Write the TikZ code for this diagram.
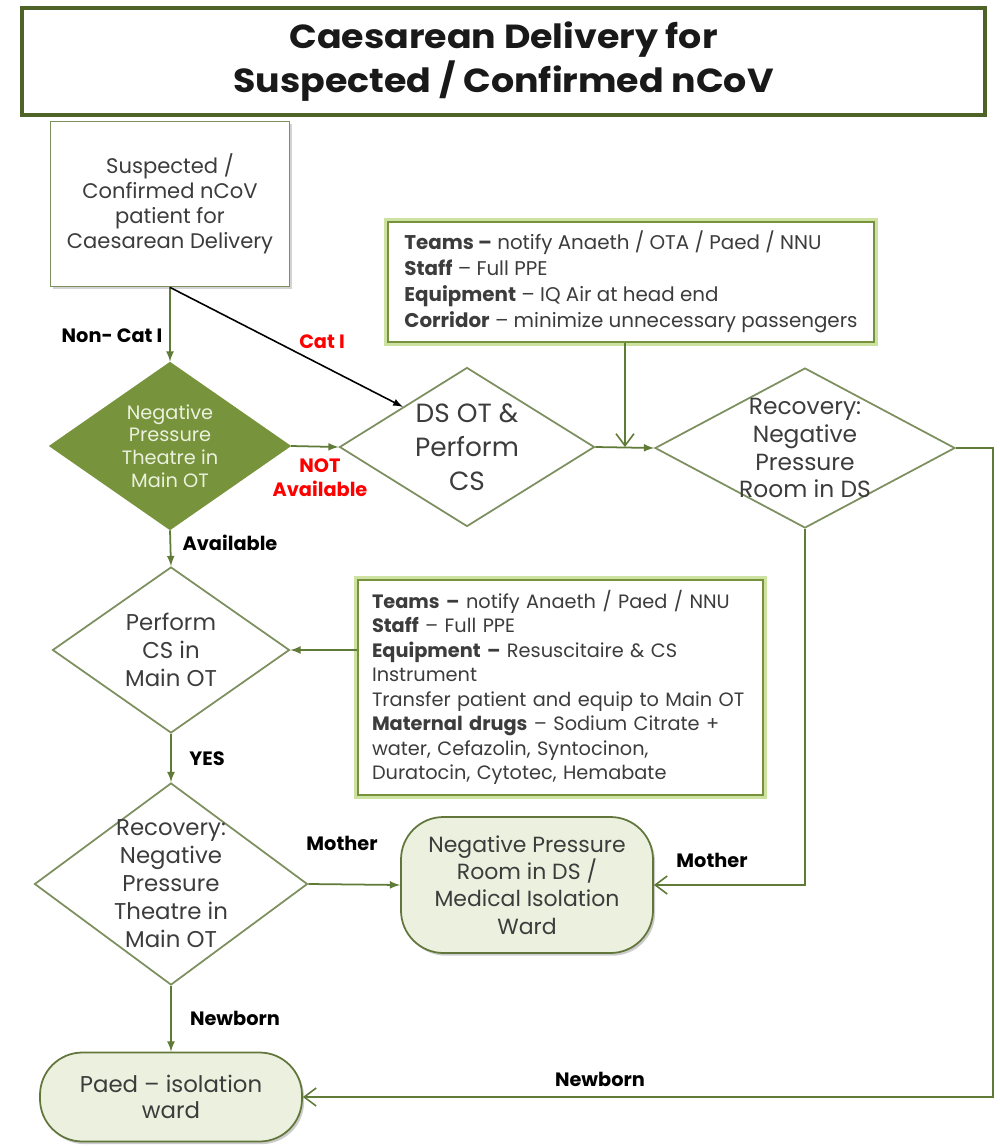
\documentclass[tikz,border=0pt]{standalone}
\usepackage{fontspec}
\setmainfont{Poppins}
\newfontfamily\headfont{Poppins}[FakeStretch=1.09]
\usetikzlibrary{arrows,arrows.meta,shapes,positioning,shadows}

\definecolor{titleg}{RGB}{79,98,40}
\definecolor{edgeg}{RGB}{125,143,95}
\definecolor{lineg}{RGB}{96,122,56}
\definecolor{darkg}{RGB}{119,147,60}
\definecolor{paleg}{RGB}{235,241,222}
\definecolor{noteg}{RGB}{118,146,60}
\definecolor{glowg}{RGB}{205,226,160}
\definecolor{termg}{RGB}{98,118,60}
\definecolor{txt}{RGB}{60,60,60}
\newcommand\pxu{0.02cm}

\begin{document}
\begin{tikzpicture}[x=0.02cm, y=-0.02cm,
  font=\fontsize{12}{14.2}\selectfont, text=txt,
  title/.style={draw=titleg, line width=2.2pt, align=center, text=black!90,
    font=\headfont\fontsize{19}{25.5}\selectfont\bfseries},
  startbox/.style={draw=edgeg, line width=1pt, fill=white, align=center,
    drop shadow={opacity=0.35, shadow xshift=1.2pt, shadow yshift=-1.2pt}},
  decision/.style={diamond, draw=edgeg, line width=1pt, inner sep=0pt},
  dtext/.style={align=center},
  note/.style={draw=noteg, line width=1.3pt, fill=white, align=left,
    preaction={draw=glowg, line width=4.5pt}, inner ysep=0pt},
  term/.style={draw=termg, line width=1pt, fill=paleg, align=center,
    rounded corners=0.85cm, drop shadow={opacity=0.4, shadow xshift=1.2pt, shadow yshift=-1.5pt}},
  tag/.style={font=\fontsize{11}{13}\selectfont\bfseries, text=black},
  redtag/.style={tag, text=red, align=center},
  flow/.style={draw=lineg, line width=1pt, -latex},
  back/.style={draw=lineg, line width=0.9pt, -{Straight Barb[length=2.4mm, width=3.6mm]}},
]
\useasboundingbox (0,0) rectangle (1000,1147);

% title
\node[title, minimum width=963*\pxu, minimum height=107*\pxu] (head) at (503.5,61.5)
  {Caesarean Delivery for\\Suspected / Confirmed nCoV};

% left column
\node[startbox, minimum width=239*\pxu, minimum height=165*\pxu] (start) at (170,204)
  {Suspected /\\Confirmed nCoV\\patient for\\Caesarean Delivery};

\node[decision, fill=darkg, draw=darkg, minimum width=240*\pxu, minimum height=167*\pxu] (negp) at (170,446) {};
\node[dtext, text=paleg, font=\fontsize{11}{13}\selectfont] (negp-t) at (negp) {Negative\\Pressure\\Theatre in\\Main OT};

\node[decision, minimum width=237*\pxu, minimum height=166*\pxu] (perf) at (171,650) {};
\node[dtext, font=\fontsize{13}{15.9}\selectfont] (perf-t) at (perf) {Perform\\CS in\\Main OT};

\node[decision, minimum width=273*\pxu, minimum height=202*\pxu] (recmain) at (171,884) {};
\node[dtext, font=\fontsize{13}{15.9}\selectfont] (recmain-t) at (recmain) {Recovery:\\Negative\\Pressure\\Theatre in\\Main OT};

\node[term, minimum width=262*\pxu, minimum height=89*\pxu, font=\fontsize{13}{14.8}\selectfont] (paed) at (171,1097)
  {Paed -- isolation\\ward};

% right part
\node[decision, minimum width=255*\pxu, minimum height=159*\pxu] (dsot) at (467,447) {};
\node[dtext, font=\fontsize{15}{19.3}\selectfont] (dsot-t) at (dsot) {DS OT \&\\Perform\\CS};

\node[decision, minimum width=300*\pxu, minimum height=160*\pxu] (recds) at (805,448) {};
\node[dtext, font=\fontsize{13.3}{15.9}\selectfont] (recds-t) at (recds) {Recovery:\\Negative\\Pressure\\Room in DS};

\node[note, minimum width=486*\pxu, minimum height=120*\pxu, inner xsep=8*\pxu,
  font=\fontsize{11.3}{14.8}\selectfont] (note1) at (631,282)
  {\textbf{Teams --} notify Anaeth / OTA / Paed / NNU\\
   \textbf{Staff} -- Full PPE\\
   \textbf{Equipment} -- IQ Air at head end\\
   \textbf{Corridor} -- minimize unnecessary passengers};

\node[note, minimum width=405*\pxu, minimum height=215*\pxu, text width=377*\pxu,
  font=\fontsize{11}{13.95}\selectfont] (note2) at (560.5,687.5)
  {\textbf{Teams --} notify Anaeth / Paed / NNU\\
   \textbf{Staff} -- Full PPE\\
   \textbf{Equipment --} Resuscitaire \& CS\\
   Instrument\\
   Transfer patient and equip to Main OT\\
   \textbf{Maternal drugs} -- Sodium Citrate +\\
   water, Cefazolin, Syntocinon,\\
   Duratocin, Cytotec, Hemabate};

\node[term, minimum width=252*\pxu, minimum height=136*\pxu, font=\fontsize{12.5}{15.6}\selectfont] (iso) at (527,885)
  {Negative Pressure\\Room in DS /\\Medical Isolation\\Ward};

\coordinate (rcorner) at (993,1097);

% connectors
\draw[flow] (start.south) -- (negp.north);
\draw[line width=0.9pt, -latex] (start.south) -- (dsot.north west);
\draw[flow] (negp.east) -- (dsot.west);
\draw[flow] (dsot.east) -- (recds.west);
\draw[back] ([xshift=-6*\pxu]note1.south) -- ([xshift=-6*\pxu]note1.south |- dsot.east);
\draw[flow] (negp.south) -- (perf.north);
\draw[flow] (note2.west |- perf.east) -- (perf.east);
\draw[flow] (perf.south) -- (recmain.north);
\draw[flow] (recmain.east) -- (iso.west);
\draw[flow] (recmain.south) -- (paed.north);
\draw[back] (recds.south) |- (iso.east);
\draw[back] (recds.east) -| (rcorner) -- (paed.east);

% labels
\node[tag] (l-noncat) at (112,336) {Non- Cat I};
\node[redtag] (l-cat) at (322,342) {Cat I};
\node[redtag, font=\fontsize{11}{13.6}\selectfont\bfseries] (l-notav) at (320,478) {NOT\\Available};
\node[tag] (l-av) at (230,543) {Available};
\node[tag] (l-yes) at (207,759) {YES};
\node[tag] (l-moth1) at (342,843) {Mother};
\node[tag] (l-moth2) at (712,860) {Mother};
\node[tag] (l-nb1) at (235,1018) {Newborn};
\node[tag] (l-nb2) at (600,1079) {Newborn};
\end{tikzpicture}
\end{document}
